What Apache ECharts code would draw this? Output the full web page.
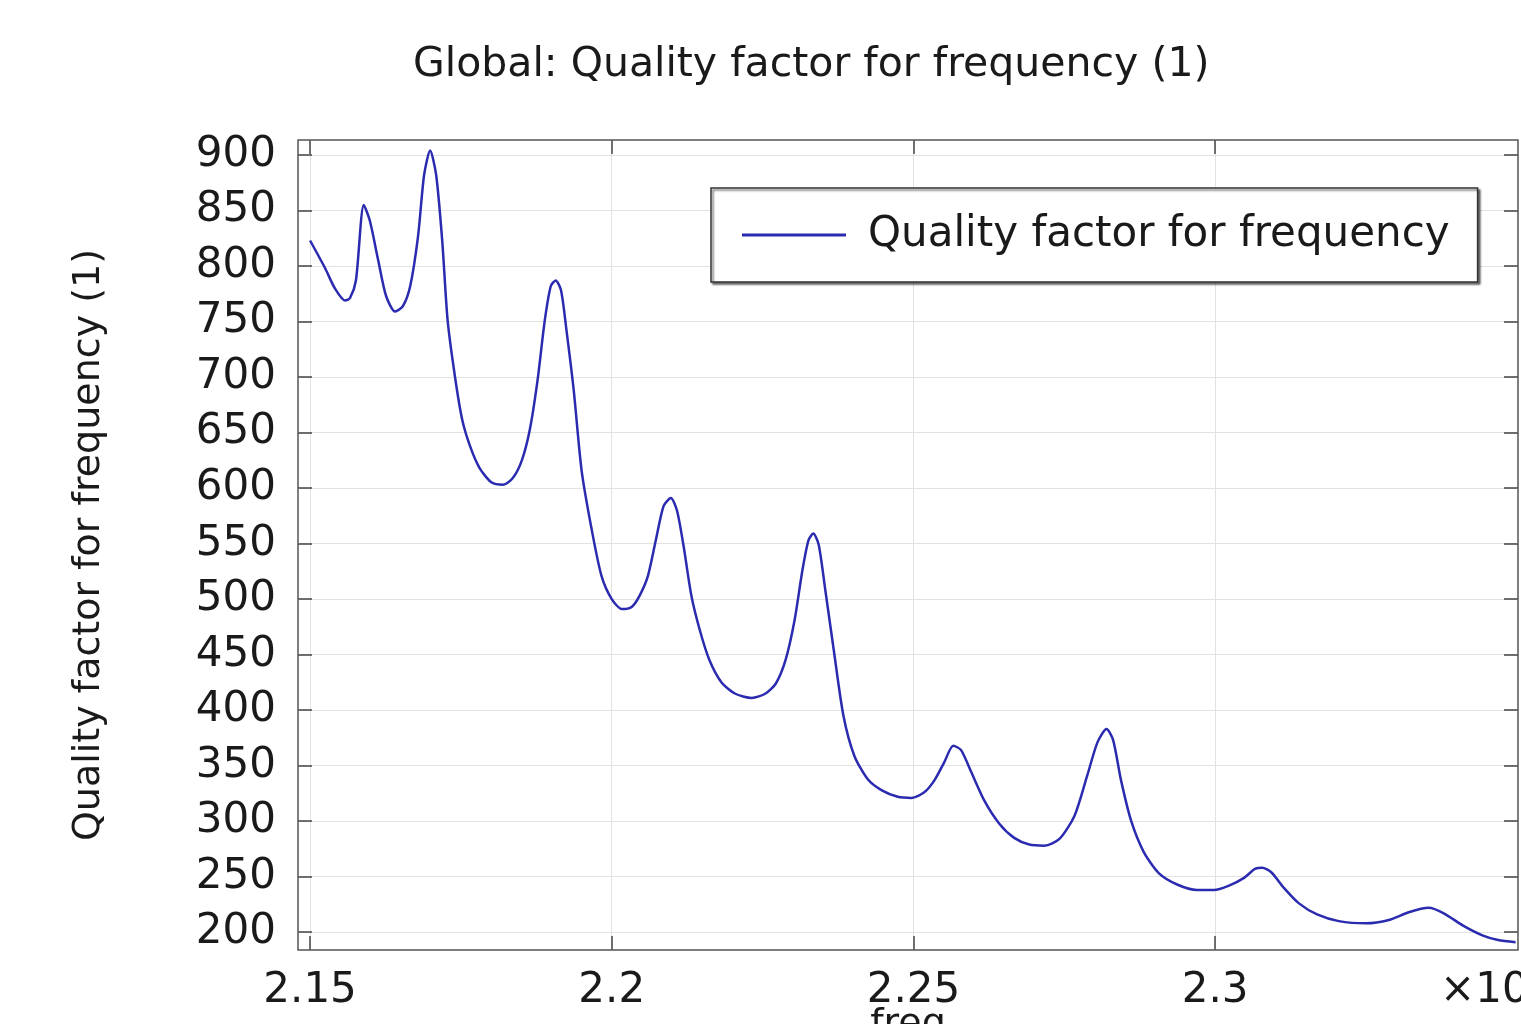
<!DOCTYPE html>
<html>
<head>
<meta charset="utf-8">
<script src="https://cdn.jsdelivr.net/npm/echarts@6/dist/echarts.min.js"></script>
<style>
html,body{margin:0;padding:0;background:#fff;}
#chart{width:1521px;height:1024px;}
</style>
</head>
<body>
<div id="chart"></div>
<script>
const freq = [2.15,2.1525,2.1541,2.1558,2.1566,2.1576,2.1589,2.1599,2.1613,2.1626,2.1641,2.1654,2.1666,2.1679,2.1689,2.1699,2.1709,2.1719,2.1728,2.174,2.1752,2.1765,2.1781,2.1801,2.182,2.1836,2.1851,2.1864,2.1877,2.1889,2.1899,2.1907,2.1916,2.1925,2.1937,2.195,2.1967,2.1983,2.2,2.2017,2.2033,2.2046,2.206,2.2073,2.2086,2.2098,2.2108,2.2119,2.2132,2.2146,2.2162,2.2182,2.2204,2.2232,2.2255,2.2272,2.2288,2.2303,2.2316,2.2326,2.2334,2.2343,2.2354,2.2368,2.2384,2.2402,2.2424,2.2447,2.2474,2.2497,2.2518,2.2535,2.2551,2.2566,2.2579,2.2596,2.2618,2.2642,2.2667,2.2692,2.2717,2.2742,2.2767,2.2788,2.2805,2.282,2.2831,2.2844,2.2861,2.2882,2.2907,2.2937,2.297,2.2998,2.3023,2.3048,2.3066,2.3078,2.3093,2.3114,2.3139,2.3169,2.3205,2.325,2.3288,2.3321,2.3354,2.3379,2.3411,2.3444,2.3469,2.3498];
const quality = [823,798,780,769,771,787,855,841,805,773,759,764,782,827,882,904,882,823,751,701,662,638,618,605,603,609,625,652,697,751,782,787,778,742,688,616,562,521,500,491,493,503,521,553,584,591,580,548,503,472,445,425,415,411,415,424,445,481,526,553,559,549,508,454,395,359,338,328,322,321,326,337,353,368,364,344,318,298,285,279,278,284,305,341,371,383,373,337,300,272,253,243,238,238,242,249,257,258,254,240,226,216,210,208,211,218,222,217,206,197,193,191];
const xTicks = [2.15, 2.2, 2.25, 2.3];
const yTicks = [200,250,300,350,400,450,500,550,600,650,700,750,800,850,900];
const seriesName = 'Quality factor for frequency';

const points = freq.map((f, i) => [f, quality[i]]);
const FONT = 'DejaVu Sans';
const X_MIN = 2.148, X_MAX = 2.3502, Y_MIN = 184, Y_MAX = 913.5;

const xCommon = {
  type: 'value', min: X_MIN, max: X_MAX,
  axisLine: { show: false },
  axisTick: { show: true, inside: true, length: 14, customValues: xTicks, lineStyle: { color: '#444', width: 1.5 } },
  splitLine: { show: false }
};
const yCommon = {
  type: 'value', min: Y_MIN, max: Y_MAX,
  axisLine: { show: false },
  axisTick: { show: true, inside: true, length: 14, customValues: yTicks, lineStyle: { color: '#444', width: 1.5 } },
  splitLine: { show: false }
};

const chart = echarts.init(document.getElementById('chart'));
chart.setOption({
  backgroundColor: '#fff',
  animation: false,
  title: {
    text: 'Global: Quality factor for frequency (1)',
    left: 408, top: 40,
    textStyle: { fontFamily: FONT, fontSize: 41, fontWeight: 'normal', color: '#1a1a1a' }
  },
  legend: {
    data: [seriesName],
    left: 711, top: 188,
    padding: [26, 28, 26, 31],
    icon: 'rect',
    itemWidth: 104, itemHeight: 3,
    backgroundColor: '#fff',
    borderColor: '#333', borderWidth: 1.5,
    shadowColor: 'rgba(0,0,0,0.55)', shadowBlur: 2, shadowOffsetX: 2, shadowOffsetY: 2,
    textStyle: { fontFamily: FONT, fontSize: 42, color: '#1a1a1a', padding: [0, 0, 0, 17] }
  },
  grid: { left: 298, top: 140, right: 3, bottom: 74, outerBoundsMode: 'none', containLabel: false,
          show: true, borderColor: '#555', borderWidth: 1.5, backgroundColor: 'transparent' },
  xAxis: [
    Object.assign({}, xCommon, {
      position: 'bottom',
      splitLine: { show: true, lineStyle: { color: '#e2e2e2', width: 1 } },
      axisLabel: {
        customValues: xTicks, margin: 20,
        fontFamily: FONT, fontSize: 42, color: '#1a1a1a',
        formatter: v => String(+v.toFixed(2))
      },
      name: 'freq', nameLocation: 'middle', nameGap: 56, nameMoveOverlap: false,
      nameTextStyle: { fontFamily: FONT, fontSize: 38, color: '#1a1a1a' }
    }),
    Object.assign({}, xCommon, { position: 'top', axisLabel: { show: false } })
  ],
  yAxis: [
    Object.assign({}, yCommon, {
      position: 'left',
      splitLine: { show: true, lineStyle: { color: '#e2e2e2', width: 1 } },
      axisLabel: { customValues: yTicks, margin: 22, fontFamily: FONT, fontSize: 42, color: '#1a1a1a' },
      name: 'Quality factor for frequency (1)', nameLocation: 'middle', nameGap: 190, nameRotate: 90, nameMoveOverlap: false,
      nameTextStyle: { fontFamily: FONT, fontSize: 38, color: '#1a1a1a' }
    }),
    Object.assign({}, yCommon, { position: 'right', axisLabel: { show: false } })
  ],
  graphic: [
    { type: 'text', left: 1440, top: 970, style: { text: '×10', fontFamily: FONT, fontSize: 42, fill: '#1a1a1a' } }
  ],
  series: [{
    name: seriesName,
    type: 'line',
    data: points,
    xAxisIndex: 0, yAxisIndex: 0,
    showSymbol: false,
    smooth: 0.25,
    color: '#2b2bb0',
    lineStyle: { width: 2.5, color: '#2b2bb0' }
  }]
});
</script>
</body>
</html>
